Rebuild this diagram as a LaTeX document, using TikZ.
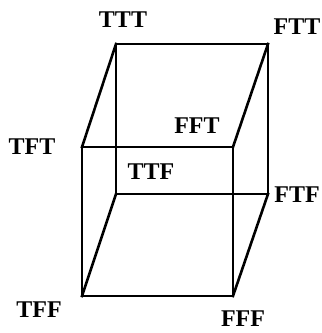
\documentclass[tikz,border=0pt]{standalone}
\usepackage{fontspec}
\setmainfont{Liberation Serif}
\begin{document}
\begin{tikzpicture}[x=1pt,y=-1pt,
  edge/.style={line width=2.6pt,line join=miter,line cap=rect},
  lbl/.style={font=\fontsize{24}{26}\selectfont\bfseries,inner sep=0pt}]
\useasboundingbox (0,0) rectangle (322,333);
\coordinate (TTT) at (116,44);
\coordinate (FTT) at (268,44);
\coordinate (TTF) at (116,194);
\coordinate (FTF) at (268,194);
\coordinate (TFT) at (82,147);
\coordinate (FFT) at (233,147);
\coordinate (TFF) at (82,296);
\coordinate (FFF) at (233,296);
\draw[edge] (TTT) -- (FTT) -- (FTF) -- (TTF) -- cycle;
\draw[edge] (TFT) -- (FFT) -- (FFF) -- (TFF) -- cycle;
\draw[edge] (TTT) -- (TFT);
\draw[edge] (FTT) -- (FFT);
\draw[edge] (TTF) -- (TFF);
\draw[edge] (FTF) -- (FFF);
\node[lbl] (lTTT) at (123,20) {TTT};
\node[lbl] (lFTT) at (297,27) {FTT};
\node[lbl] (lFFT) at (197,126) {FFT};
\node[lbl] (lTFT) at (32,147) {TFT};
\node[lbl] (lTTF) at (151,172) {TTF};
\node[lbl] (lFTF) at (297,195) {FTF};
\node[lbl] (lTFF) at (39,310) {TFF};
\node[lbl] (lFFF) at (243,319) {FFF};
\end{tikzpicture}
\end{document}
